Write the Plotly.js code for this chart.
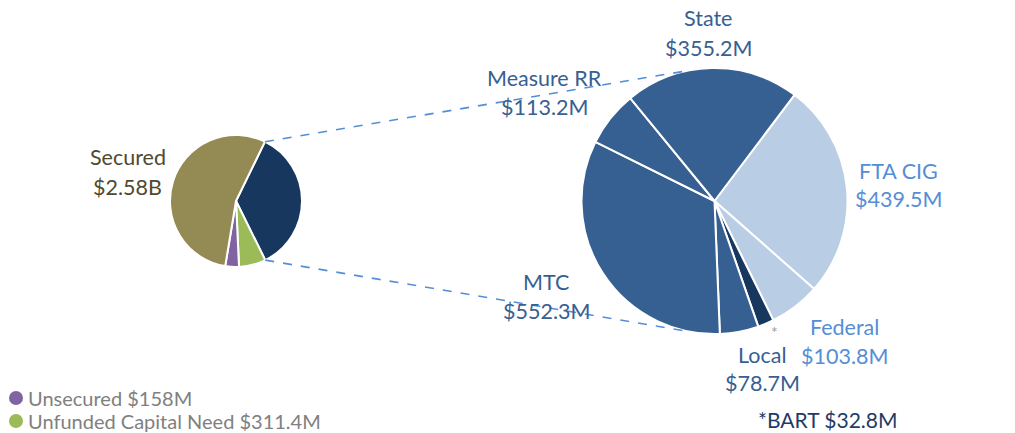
<!DOCTYPE html>
<html>
<head>
<meta charset="utf-8">
<script src="https://cdn.plot.ly/plotly-3.0.1.min.js"></script>
<style>html,body{margin:0;padding:0;background:#fff;}#chart{width:1015px;height:433px;}</style>
</head>
<body>
<div id="chart"></div>
<script>
// ---- data ----
const bigLabels = ['FTA CIG', 'Federal', 'BART', 'Local', 'MTC', 'Measure RR', 'State'];
const bigValues = [439.5, 103.8, 32.8, 78.7, 552.3, 113.2, 355.2];
const bigColors = ['#B9CDE5', '#B9CDE5', '#17375E', '#376092', '#376092', '#376092', '#376092'];
const bigTextLabels = ['$439.5M', '$103.8M', '$32.8M', '$78.7M', '$552.3M', '$113.2M', '$355.2M'];

const smallLabels = ['Secured detail', 'Unfunded Capital Need', 'Unsecured', 'Secured'];
const securedDetail = bigValues.reduce((a, b) => a + b, 0);
const smallValues = [securedDetail, 311.4, 158, 2580];
const smallColors = ['#17375E', '#9BBB59', '#8064A2', '#948A54'];

const legendLabels = ['Unsecured $158M', 'Unfunded Capital Need $311.4M'];
const legendColors = ['#8064A2', '#9BBB59'];

// ---- layout geometry ----
const W = 1015, H = 433;
const px = x => x / W;
const py = y => 1 - y / H;
const small = {cx: 236, cy: 201, r: 66, rot: 26};
const big = {cx: 714.5, cy: 201, r: 133, rot: 37};

function dom(p) {
  return {x: [px(p.cx - p.r), px(p.cx + p.r)], y: [py(p.cy + p.r), py(p.cy - p.r)]};
}

const traces = [
  {
    type: 'pie', values: smallValues, labels: smallLabels, sort: false, direction: 'clockwise',
    rotation: small.rot, marker: {colors: smallColors, line: {color: '#ffffff', width: 2}},
    textinfo: 'none', hoverinfo: 'label+value', domain: dom(small), showlegend: false
  },
  {
    type: 'pie', values: bigValues, labels: bigLabels, sort: false, direction: 'clockwise',
    rotation: big.rot, marker: {colors: bigColors, line: {color: '#ffffff', width: 2}},
    textinfo: 'none', hoverinfo: 'label+value', domain: dom(big), showlegend: false
  }
];

// connector points
const smallTotal = smallValues.reduce((a, b) => a + b, 0);
const a0 = small.rot * Math.PI / 180;
const a1 = (small.rot + 360 * smallValues[0] / smallTotal) * Math.PI / 180;
const pt = (p, a) => [p.cx + p.r * Math.sin(a), p.cy - p.r * Math.cos(a)];
const s0 = pt(small, a0), s1 = pt(small, a1);
const b0 = pt(big, -10.5 * Math.PI / 180), b1 = pt(big, 190.5 * Math.PI / 180);
const dashLine = (p, q) => ({type: 'line', xref: 'paper', yref: 'paper',
  x0: px(p[0]), y0: py(p[1]), x1: px(q[0]), y1: py(q[1]),
  line: {color: '#558ED5', width: 1.6, dash: 'dash'}});

const FONT = 'Lato, "Open Sans", sans-serif';
const DARK = '#376092', LIGHT = '#558ED5', OLIVE = '#4F4A2E', GREY = '#808080';
const FS = 21.5;
function ann(text, x, y, color, size, xanchor) {
  return {text: text, x: px(x), y: py(y), xref: 'paper', yref: 'paper', showarrow: false,
    xanchor: xanchor || 'center', yanchor: 'middle', font: {family: FONT, size: size || FS, color: color}};
}

const annotations = [
  ann('Secured', 128, 157, OLIVE), ann('$2.58B', 128, 187, OLIVE),
  ann(bigLabels[6], 708, 18, DARK), ann(bigTextLabels[6], 708, 48, DARK),
  ann(bigLabels[5], 544, 78, DARK), ann(bigTextLabels[5], 544, 107, DARK),
  ann(bigLabels[0], 898, 171, LIGHT), ann(bigTextLabels[0], 898, 199, LIGHT),
  ann(bigLabels[4], 546, 282, DARK), ann(bigTextLabels[4], 546, 311, DARK),
  ann(bigLabels[1], 844, 327, LIGHT), ann(bigTextLabels[1], 844, 356, LIGHT),
  ann(bigLabels[3], 762, 355, DARK), ann(bigTextLabels[3], 762, 383, DARK),
  ann('*', 774, 331, '#9A9A9A', 16),
  ann('*' + bigLabels[2] + ' ' + bigTextLabels[2], 828, 419, '#1F3B66', 21),
];
const shapes = [dashLine(s0, b0), dashLine(s1, b1)];
legendLabels.forEach((t, i) => {
  const yc = 398 + i * 23;
  shapes.push({type: 'circle', xref: 'paper', yref: 'paper', x0: px(9), x1: px(23), y0: py(yc + 7), y1: py(yc - 7),
    fillcolor: legendColors[i], line: {width: 0}});
  annotations.push(ann(t, 26, yc, GREY, 20, 'left'));
});

const layout = {
  width: W, height: H, margin: {l: 0, r: 0, t: 0, b: 0},
  paper_bgcolor: '#ffffff', plot_bgcolor: '#ffffff',
  shapes: shapes, annotations: annotations, showlegend: false
};
Plotly.newPlot('chart', traces, layout, {displayModeBar: false, staticPlot: true});
</script>
</body>
</html>
